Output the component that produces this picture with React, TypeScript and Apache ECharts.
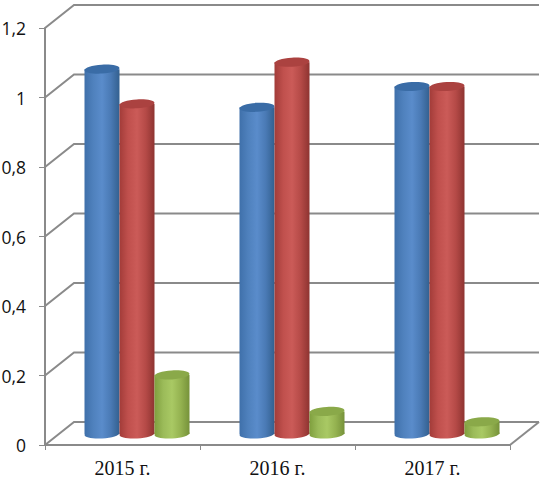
import React, { useEffect, useRef } from "react";
import * as echarts from "echarts";

const categories = ["2015 г.", "2016 г.", "2017 г."];
const blueValues = [1.05, 0.94, 1.0];
const redValues = [0.95, 1.07, 1.0];
const greenValues = [0.17, 0.065, 0.035];
const gridTicks = [0, 0.2, 0.4, 0.6, 0.8, 1, 1.2];

const DX = 29;
const DY = -23;
const RX = 17.5;
const RY = 4.5;
const TILT = 0.06;

function gradient(stops: string[]) {
  return new echarts.graphic.LinearGradient(
    0, 0, 1, 0,
    stops.map((color, i) => ({ offset: i / (stops.length - 1), color }))
  );
}

function cylinder(slot: number, stops: string[], topColor: string) {
  return (params: any, api: any) => {
    const cat = api.value(0);
    const value = api.value(1);
    const base = api.coord([cat, 0]);
    const top = api.coord([cat, value]);
    const cx = base[0] + DX / 2 + slot * 2 * RX;
    const yb = base[1] + DY / 2 + 0.5;
    const yt = top[1] + DY / 2 + 0.5;
    const fill = gradient(stops);
    const ell = (cy: number, f: any) => ({
      type: "ellipse",
      x: cx,
      y: cy,
      rotation: TILT,
      shape: { cx: 0, cy: 0, rx: RX, ry: RY },
      style: { fill: f },
    });
    return {
      type: "group",
      children: [
        ell(yb, fill),
        { type: "rect", shape: { x: cx - RX, y: yt, width: RX * 2, height: yb - yt }, style: { fill } },
        ell(yt, topColor),
      ],
    };
  };
}

function walls(params: any, api: any) {
  const v = api.value(0);
  const rect = params.coordSys;
  const y = api.coord([0, v])[1];
  const x0 = rect.x;
  const x1 = rect.x + rect.width;
  const lineStyle = { stroke: "#8a8a8a", lineWidth: 2, fill: "none" };
  const children: any[] = [
    {
      type: "polyline",
      shape: { points: [[x0, y], [x0 + DX, y + DY], [x1 + DX, y + DY]] },
      style: lineStyle,
    },
  ];
  if (v === 0) {
    children.push({
      type: "line",
      shape: { x1, y1: y, x2: x1 + DX, y2: y + DY },
      style: lineStyle,
    });
  }
  return { type: "group", children };
}

const seriesDefs = [
  { name: "blue", values: blueValues, stops: ["#3f70aa", "#4f81bd", "#5a8ccb", "#4a7ab5", "#33608f"], top: "#3a6ca6" },
  { name: "red", values: redValues, stops: ["#a23c39", "#c0504d", "#cb5b58", "#b54a47", "#8e3431"], top: "#ab4240" },
  { name: "green", values: greenValues, stops: ["#7f9f3e", "#9bbb59", "#a9c964", "#94b250", "#76923a"], top: "#8aa949" },
];

export default function App() {
  const ref = useRef<HTMLDivElement>(null);
  useEffect(() => {
    const chart = echarts.init(ref.current!, undefined, { renderer: "svg" });
    chart.setOption({
      animation: false,
      backgroundColor: "#ffffff",
      grid: { left: 45, right: 35, top: 28, bottom: 33, containLabel: false, outerBoundsMode: "none" },
      xAxis: {
        type: "category",
        data: categories,
        axisLine: { lineStyle: { color: "#8a8a8a", width: 2 } },
        axisTick: { show: true, length: 5, lineStyle: { color: "#8a8a8a", width: 1 } },
        axisLabel: { fontFamily: "Liberation Serif", fontSize: 20, color: "#111", margin: 13 },
      },
      yAxis: {
        type: "value",
        min: 0,
        max: 1.2,
        interval: 0.2,
        splitLine: { show: false },
        axisLine: { show: true, lineStyle: { color: "#8a8a8a", width: 2 } },
        axisTick: { show: true, length: 6, lineStyle: { color: "#8a8a8a", width: 1 } },
        axisLabel: {
          fontFamily: "Open Sans",
          fontSize: 17.5,
          color: "#111",
          margin: 19,
          padding: [4, 0, 0, 0],
          formatter: (v: number) => String(Math.round(v * 10) / 10).replace(".", ","),
        },
      },
      series: [
        {
          type: "custom",
          name: "walls",
          silent: true,
          z: 1,
          clip: false,
          data: gridTicks.map((v) => [v]),
          encode: { y: 0 },
          renderItem: walls,
        },
        ...seriesDefs.map((s, slot) => ({
          type: "custom",
          name: s.name,
          z: 2 + slot,
          clip: false,
          data: s.values.map((v, i) => [i, v]),
          encode: { x: 0, y: 1 },
          renderItem: cylinder(slot - 1, s.stops, s.top),
        })),
      ],
    });
    return () => chart.dispose();
  }, []);
  return <div ref={ref} style={{ position: "fixed", left: 0, top: 0, width: 545, height: 478 }} />;
}
